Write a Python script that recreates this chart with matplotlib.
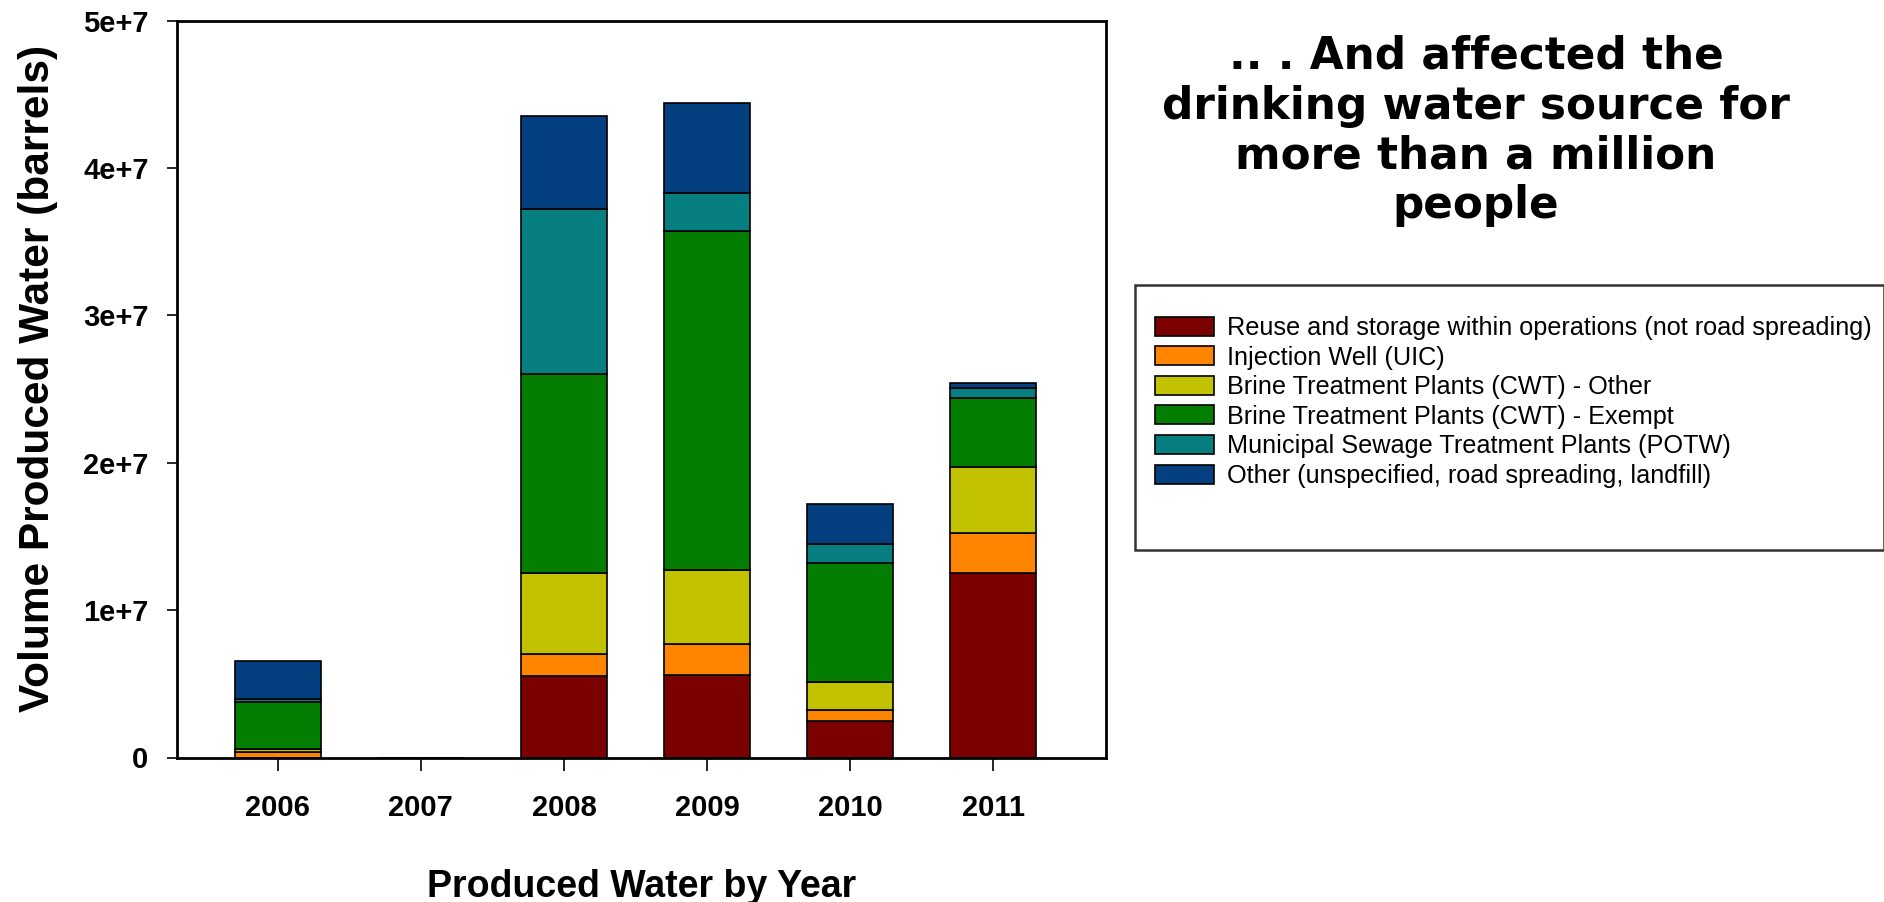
import matplotlib
matplotlib.use("Agg")
import matplotlib.pyplot as plt
from matplotlib.patches import Rectangle
import numpy as np

years = ["2006", "2007", "2008", "2009", "2010", "2011"]
reuse = [0.0, 0, 5.5e6, 5.6e6, 2.5e6, 12.5e6]
injection = [0.35e6, 0, 1.5e6, 2.1e6, 0.7e6, 2.7e6]
brine_other = [0.25e6, 0, 5.5e6, 5.0e6, 1.9e6, 4.5e6]
brine_exempt = [3.15e6, 0, 13.5e6, 23.0e6, 8.1e6, 4.7e6]
municipal = [0.2e6, 0, 11.2e6, 2.6e6, 1.3e6, 0.65e6]
other = [2.6e6, 0, 6.3e6, 6.1e6, 2.7e6, 0.35e6]

series_labels = [
    "Reuse and storage within operations (not road spreading)",
    "Injection Well (UIC)",
    "Brine Treatment Plants (CWT) - Other",
    "Brine Treatment Plants (CWT) - Exempt",
    "Municipal Sewage Treatment Plants (POTW)",
    "Other (unspecified, road spreading, landfill)",
]
series_colors = ["#7B0000", "#FF8400", "#C2C200", "#037E01", "#077F80", "#043F80"]
ytick_vals = [0, 1e7, 2e7, 3e7, 4e7, 5e7]
ytick_labels = ["0", "1e+7", "2e+7", "3e+7", "4e+7", "5e+7"]

title_text = ".. . And affected the\ndrinking water source for\nmore than a million\npeople"

W, H = 1884, 902
fig = plt.figure(figsize=(W / 100, H / 100), dpi=100)
ax = fig.add_axes([177 / W, 1 - 757.5 / H, (1106 - 177) / W, (757.5 - 20.5) / H])

x = np.arange(len(years))
bottom = np.zeros(len(years))
handles = []
for vals, lab, col in zip([reuse, injection, brine_other, brine_exempt, municipal, other],
                          series_labels, series_colors):
    v = np.array(vals, dtype=float)
    b = ax.bar(x, v, 0.6, bottom=bottom, color=col, edgecolor="black",
               linewidth=1.2, label=lab, zorder=2)
    handles.append(b)
    bottom += v

ax.set_xlim(-0.705, 5.79)
ax.set_ylim(0, 5e7)
ax.set_xticks(x)
ax.set_xticklabels(years)
ax.set_yticks(ytick_vals)
ax.set_yticklabels(ytick_labels)

for s in ax.spines.values():
    s.set_linewidth(2)
    s.set_color("black")

for lab in ax.get_xticklabels() + ax.get_yticklabels():
    lab.set_fontfamily("Liberation Sans")
    lab.set_fontweight("bold")
    lab.set_fontsize(21)
ax.tick_params(axis="y", direction="out", length=7.5, width=1.2, pad=13)
ax.tick_params(axis="x", direction="out", length=9, width=1.2, pad=17)

ax.set_ylabel("Volume Produced Water (barrels)", fontfamily="Liberation Sans",
              fontweight="bold", fontsize=30.5, labelpad=17)
ax.yaxis.set_label_coords(-0.128, 0.515)
ax.set_xlabel("Produced Water by Year", fontfamily="Liberation Sans",
              fontweight="bold", fontsize=27, labelpad=34)

fig.text(1476 / W, 1 - 131 / H, title_text, ha="center", va="center",
         multialignment="center", fontfamily="DejaVu Sans", fontweight="bold",
         fontsize=31.5, linespacing=1.2)

# legend frame
fig.patches.append(Rectangle((1135 / W, 1 - 550 / H), (W - 1135) / W, 265 / H,
                             transform=fig.transFigure, fill=False,
                             edgecolor="#333333", linewidth=1.8))

leg = fig.legend(handles=handles, labels=series_labels, loc="upper left",
                 bbox_to_anchor=(1155 / W, 1 - 316 / H), frameon=False,
                 prop=dict(family="Liberation Sans", size=18.2),
                 handlelength=2.35, handleheight=0.78, handletextpad=0.5,
                 labelspacing=0.22, borderpad=0, borderaxespad=0)

fig.savefig("out.png", dpi=100, facecolor="white")
